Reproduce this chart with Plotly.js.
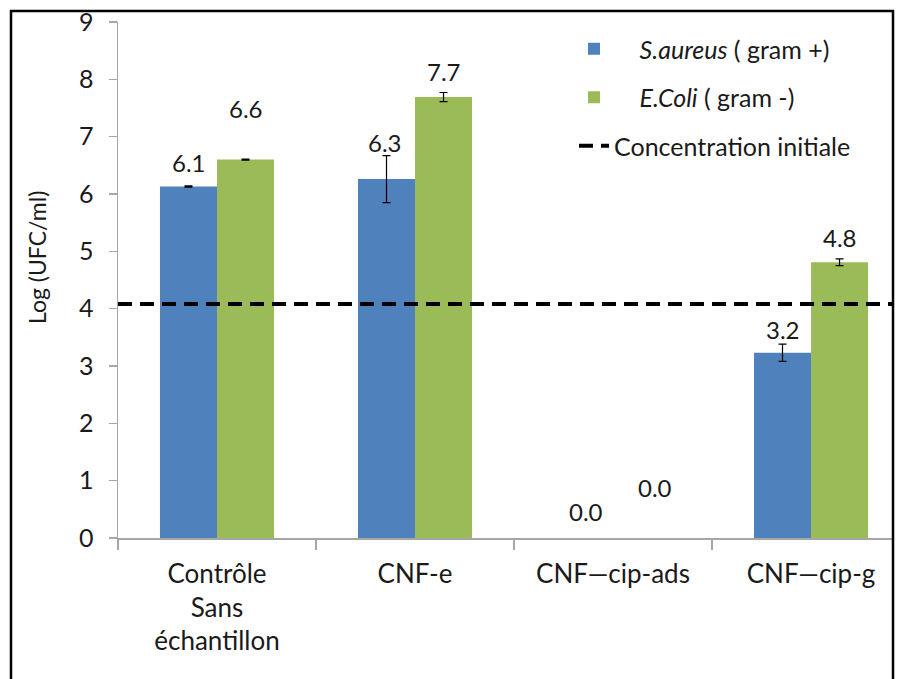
<!DOCTYPE html>
<html>
<head>
<meta charset="utf-8">
<script src="https://cdn.plot.ly/plotly-3.0.1.min.js"></script>
<style>html,body{margin:0;padding:0;background:#fff;}#chart{width:901px;height:679px;}</style>
</head>
<body>
<div id="chart"></div>
<script>
// ---- data ----
var categories = ["Contrôle<br>Sans<br>échantillon", "CNF-e", "CNF\u2014cip-ads", "CNF\u2014cip-g"];
var saureusValues = [6.13, 6.26, 0.0, 3.23];
var saureusErrors = [0.01, 0.41, NaN, 0.15];
var ecoliValues = [6.60, 7.69, 0.0, 4.81];
var ecoliErrors = [0.01, 0.08, NaN, 0.06];
var initialConcentration = 4.08;
var seriesNames = ["&nbsp;&nbsp;&nbsp;&nbsp;<i>S.aureus</i> ( gram +)", "&nbsp;&nbsp;&nbsp;&nbsp;<i>E.Coli</i> ( gram -)", "Concentration initiale"];
var yTickValues = [0,1,2,3,4,5,6,7,8,9];
var yTitle = "Log (UFC/ml)";

// ---- label placement (pixels, layout only) ----
var saureusLabelShift = [{dx:0,dy:24},{dx:-2,dy:37},{dx:1,dy:27},{dx:0,dy:23}];
var ecoliLabelShift   = [{dx:0,dy:51},{dx:0,dy:26},{dx:13,dy:51},{dx:0,dy:25}];

var FONT = "Lato, 'Open Sans', sans-serif";
var blue = "#4F81BD", green = "#9BBB59", txt = "#1a1a1a";

var traces = [
  {type:"bar", name:seriesNames[0], x:categories, y:saureusValues,
   marker:{color:blue, line:{width:0}}, legendgroup:"a",
   error_y:{type:"data", array:saureusErrors, visible:true, color:"#000", thickness:1.2, width:4}},
  {type:"bar", name:seriesNames[1], x:categories, y:ecoliValues,
   marker:{color:green, line:{width:0}}, legendgroup:"b",
   error_y:{type:"data", array:ecoliErrors, visible:true, color:"#000", thickness:1.2, width:4}},
  {type:"scatter", mode:"lines", name:seriesNames[2], xaxis:"x2",
   x:[0,1], y:[initialConcentration, initialConcentration], legendgroup:"c",
   line:{color:"#000", width:4, dash:"14px,8px"}}
];

var L = 118, R = 8, T = 22, B = 141, W = 901, H = 679;
var pw = W - L - R, ph = H - T - B;
function px2x(p){ return (p - L) / pw; }
function py2y(p){ return (H - B - p) / ph; }

var barHalf = 28.5;
var annotations = [];
for (var i = 0; i < categories.length; i++) {
  annotations.push({x:categories[i], y:saureusValues[i], xref:"x", yref:"y",
    text:saureusValues[i].toFixed(1), showarrow:false, yanchor:"middle",
    xshift:-barHalf + saureusLabelShift[i].dx, yshift:saureusLabelShift[i].dy,
    font:{family:FONT, size:24, color:txt}});
  annotations.push({x:categories[i], y:ecoliValues[i], xref:"x", yref:"y",
    text:ecoliValues[i].toFixed(1), showarrow:false, yanchor:"middle",
    xshift:barHalf + ecoliLabelShift[i].dx, yshift:ecoliLabelShift[i].dy,
    font:{family:FONT, size:24, color:txt}});
}
annotations.push({xref:"paper", yref:"paper", x:px2x(37), y:py2y(258), text:yTitle,
  textangle:-90, showarrow:false, xanchor:"center", yanchor:"middle",
  font:{family:FONT, size:23, color:txt}});

var layout = {
  width:W, height:H,
  margin:{l:L, r:R, t:T, b:B, pad:0},
  paper_bgcolor:"#fff", plot_bgcolor:"#fff",
  font:{family:FONT, size:22, color:txt},
  barmode:"group", bargap:0.424, bargroupgap:0,
  showlegend:true,
  legend:{x:px2x(574), y:py2y(26), xanchor:"left", yanchor:"top",
    bgcolor:"rgba(0,0,0,0)", font:{family:FONT, size:25, color:txt},
    traceorder:"grouped", tracegroupgap:13, itemwidth:30},
  xaxis:{type:"category", range:[-0.5, 3.414], showline:true, linecolor:"#A6A6A6", linewidth:1.5,
    ticks:"outside", tickson:"boundaries", ticklen:10, tickcolor:"#A6A6A6", tickwidth:1.5,
    ticklabelstandoff:12,
    showgrid:false, zeroline:false, tickfont:{family:FONT, size:26, color:txt}, fixedrange:true},
  xaxis2:{overlaying:"x", range:[0,1], visible:false, fixedrange:true},
  yaxis:{range:[0,9], tickvals:yTickValues, showline:true, linecolor:"#A6A6A6", linewidth:1.5,
    ticks:"outside", ticklen:8, tickcolor:"#A6A6A6", tickwidth:1.5, showgrid:false, zeroline:false,
    ticklabelstandoff:10,
    tickfont:{family:FONT, size:25, color:txt}, fixedrange:true},
  annotations:annotations,
  shapes:[{type:"rect", xref:"paper", yref:"paper", layer:"above",
    x0:px2x(11), x1:px2x(893), y0:py2y(700), y1:py2y(11),
    line:{color:"#000", width:2.5}, fillcolor:"rgba(0,0,0,0)"}]
};

Plotly.newPlot("chart", traces, layout, {displayModeBar:false, staticPlot:true});
</script>
</body>
</html>
